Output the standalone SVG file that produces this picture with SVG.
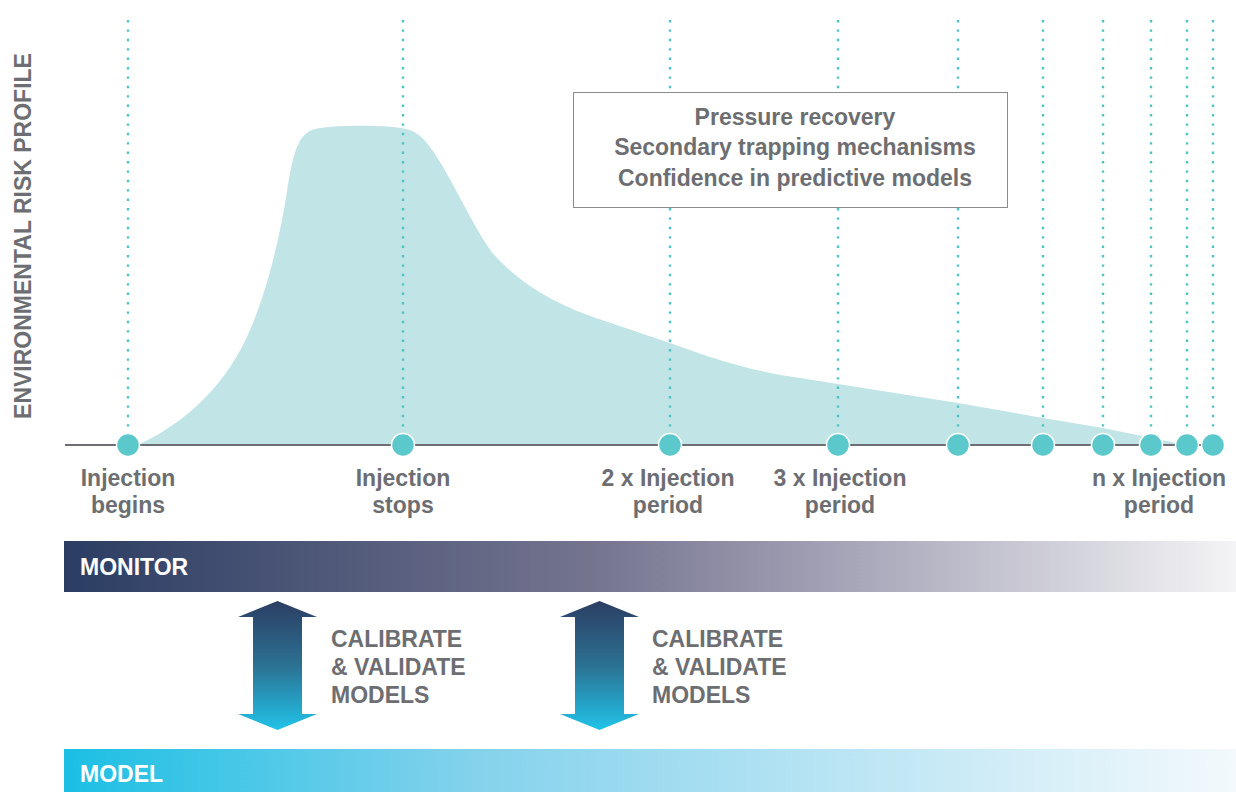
<svg xmlns="http://www.w3.org/2000/svg" width="1236" height="792" viewBox="0 0 1236 792">
<defs>
<style>
.t{font-family:"Liberation Sans",Arial,sans-serif;font-weight:700;font-size:23px;fill:#6d6e71}
.lbl{text-anchor:middle}
.w{fill:#ffffff}
.vl{stroke:#4fc4c8;stroke-width:2.4;stroke-dasharray:2.4 7;fill:none}
.dot{fill:#5bc8cb;stroke:#ffffff;stroke-width:1.5}
</style>
<linearGradient id="gMon" x1="0" y1="0" x2="1" y2="0">
<stop offset="0" stop-color="#2b3d63"/>
<stop offset="0.45" stop-color="#74748f"/>
<stop offset="0.63" stop-color="#9d9cb1"/>
<stop offset="1" stop-color="#f4f4f6"/>
</linearGradient>
<linearGradient id="gMod" x1="0" y1="0" x2="1" y2="0">
<stop offset="0" stop-color="#1bbfe4"/>
<stop offset="0.35" stop-color="#84d2ec"/>
<stop offset="1" stop-color="#f3f9fc"/>
</linearGradient>
<linearGradient id="gArr" x1="0" y1="0" x2="0" y2="1">
<stop offset="0" stop-color="#2c3e63"/>
<stop offset="0.5" stop-color="#2b7193"/>
<stop offset="1" stop-color="#21c3e8"/>
</linearGradient>
</defs>
<rect width="1236" height="792" fill="#ffffff"/>

<g id="axis-label">
<text class="t lbl" transform="translate(31,236) rotate(-90)">ENVIRONMENTAL RISK PROFILE</text>
</g>

<g id="risk-curve">
<path d="M138,445 C175,428 220,395 247,337 C265,298 280,240 288,185 C294,148 300,135 312,130 C325,125 390,124 410,130 C420,134 428,142 440,162 C460,195 480,240 497,258 C520,282 550,302 596,318 L670,343 C730,365 760,372 800,378 L958,403 L1043,418 L1103,428 L1176,443 L1176,445 Z" fill="#c1e4e6"/>
</g>

<g id="connectors">
<line class="vl" x1="128" y1="20" x2="128" y2="436"/>
<line class="vl" x1="403" y1="20" x2="403" y2="436"/>
<line class="vl" x1="670" y1="20" x2="670" y2="436"/>
<line class="vl" x1="838" y1="20" x2="838" y2="436"/>
<line class="vl" x1="958" y1="20" x2="958" y2="436"/>
<line class="vl" x1="1043" y1="20" x2="1043" y2="436"/>
<line class="vl" x1="1103" y1="20" x2="1103" y2="436"/>
<line class="vl" x1="1151" y1="20" x2="1151" y2="436"/>
<line class="vl" x1="1187" y1="20" x2="1187" y2="436"/>
<line class="vl" x1="1213" y1="20" x2="1213" y2="436"/>
<line x1="65" y1="445" x2="1213" y2="445" stroke="#6d6e71" stroke-width="2"/>
</g>

<g id="box">
<rect x="573.5" y="92.5" width="434" height="115" fill="#ffffff" stroke="#8a8b8d" stroke-width="1"/>
<text class="t lbl" x="795" y="125">Pressure recovery</text>
<text class="t lbl" x="795" y="155">Secondary trapping mechanisms</text>
<text class="t lbl" x="795" y="186">Confidence in predictive models</text>
</g>

<g id="milestones">
<circle class="dot" cx="128" cy="445" r="11.5"/>
<circle class="dot" cx="403" cy="445" r="11.5"/>
<circle class="dot" cx="670" cy="445" r="11.5"/>
<circle class="dot" cx="838" cy="445" r="11.5"/>
<circle class="dot" cx="958" cy="445" r="11.5"/>
<circle class="dot" cx="1043" cy="445" r="11.5"/>
<circle class="dot" cx="1103" cy="445" r="11.5"/>
<circle class="dot" cx="1151" cy="445" r="11.5"/>
<circle class="dot" cx="1187" cy="445" r="11.5"/>
<circle class="dot" cx="1213" cy="445" r="11.5"/>
</g>

<g id="label-begins">
<text class="t lbl" x="128" y="486">Injection</text>
<text class="t lbl" x="128" y="513">begins</text>
</g>
<g id="label-stops">
<text class="t lbl" x="403" y="486">Injection</text>
<text class="t lbl" x="403" y="513">stops</text>
</g>
<g id="label-2x">
<text class="t lbl" x="668" y="486">2 x Injection</text>
<text class="t lbl" x="668" y="513">period</text>
</g>
<g id="label-3x">
<text class="t lbl" x="840" y="486">3 x Injection</text>
<text class="t lbl" x="840" y="513">period</text>
</g>
<g id="label-nx">
<text class="t lbl" x="1159" y="486">n x Injection</text>
<text class="t lbl" x="1159" y="513">period</text>
</g>

<g id="monitor">
<rect x="64" y="541" width="1172" height="51" fill="url(#gMon)"/>
<text class="t w" x="80" y="575">MONITOR</text>
</g>

<g id="arrow-1">
<polygon points="277.5,601 317,617 302,617 302,714 317,714 277.5,730 238,714 253,714 253,617 238,617" fill="url(#gArr)"/>
<text class="t" x="331" y="647">CALIBRATE</text>
<text class="t" x="331" y="675">&amp; VALIDATE</text>
<text class="t" x="331" y="703">MODELS</text>
</g>

<g id="arrow-2">
<polygon points="599.5,601 639,617 624,617 624,714 639,714 599.5,730 560,714 575,714 575,617 560,617" fill="url(#gArr)"/>
<text class="t" x="652" y="647">CALIBRATE</text>
<text class="t" x="652" y="675">&amp; VALIDATE</text>
<text class="t" x="652" y="703">MODELS</text>
</g>

<g id="model">
<rect x="64" y="749" width="1172" height="43" fill="url(#gMod)"/>
<text class="t w" x="80" y="782">MODEL</text>
</g>
</svg>
